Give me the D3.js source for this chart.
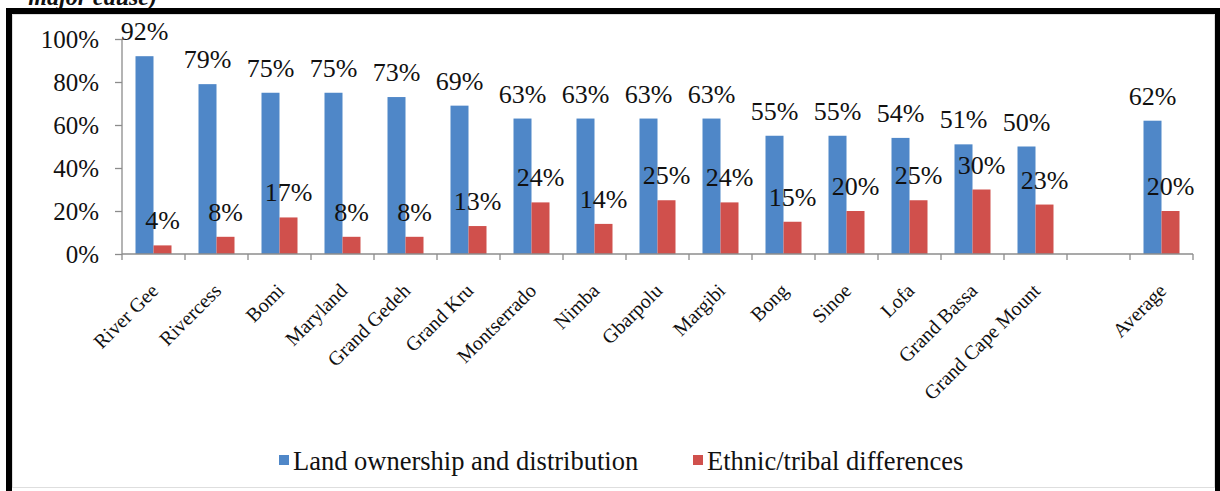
<!DOCTYPE html>
<html>
<head>
<meta charset="utf-8">
<script src="https://cdn.jsdelivr.net/npm/d3@7"></script>
<style>
  body { margin: 0; background: #fff; }
  svg { display: block; }
  text { font-family: "Liberation Serif", "Times New Roman", serif; fill: #111; }
</style>
</head>
<body>
<svg width="1220" height="491"></svg>
<script>
// counties, then an empty slot, then the average
var categories = ["River Gee", "Rivercess", "Bomi", "Maryland", "Grand Gedeh", "Grand Kru",
  "Montserrado", "Nimba", "Gbarpolu", "Margibi", "Bong", "Sinoe", "Lofa", "Grand Bassa",
  "Grand Cape Mount", "", "Average"];
var landValues = [92, 79, 75, 75, 73, 69, 63, 63, 63, 63, 55, 55, 54, 51, 50, null, 62];
var ethnicValues = [4, 8, 17, 8, 8, 13, 24, 14, 25, 24, 15, 20, 25, 30, 23, null, 20];
var seriesNames = ["Land ownership and distribution", "Ethnic/tribal differences"];
var yTicks = [0, 20, 40, 60, 80, 100];

var blue = "#4f87c8", red = "#d0504c", axisGray = "#8c8c8c";

var svg = d3.select("svg"),
    plotLeft = 122, plotRight = 1193, plotTop = 39, plotBottom = 254;

// caption fragment cut off above the frame
svg.append("text")
    .attr("x", 157).attr("y", 5)
    .attr("text-anchor", "end")
    .style("font-size", "24px").style("font-weight", "bold").style("font-style", "italic")
    .text("major cause)");

// frame
svg.append("rect")
    .attr("x", 9).attr("y", 11).attr("width", 1209).attr("height", 600)
    .attr("fill", "#fff").attr("stroke", "#000").attr("stroke-width", 6);
svg.append("rect")
    .attr("x", 12.5).attr("y", 14.5).attr("width", 1202).attr("height", 473)
    .attr("fill", "none").attr("stroke", "#dedede").attr("stroke-width", 1);

var x = d3.scaleBand()
    .domain(d3.range(categories.length))
    .range([plotLeft, plotRight]);

var y = d3.scaleLinear()
    .domain([0, 100])
    .range([plotBottom, plotTop]);

var inner = d3.scaleBand()
    .domain([0, 1])
    .range([0, x.bandwidth()])
    .paddingOuter(0.75)
    .paddingInner(0);

// y axis
var yAxis = svg.append("g")
    .attr("transform", "translate(" + plotLeft + ",0)")
    .call(d3.axisLeft(y).tickValues(yTicks).tickSize(7).tickPadding(16)
      .tickFormat(function(d) { return d + "%"; }));
yAxis.selectAll("path, line").attr("stroke", axisGray).attr("stroke-width", 1.3);
yAxis.selectAll("text").style("font-size", "25px").attr("fill", "#111")
    .style("font-family", "'Liberation Serif', 'Times New Roman', serif");
yAxis.select(".domain").attr("d", "M0," + plotTop + "V" + plotBottom);

// bars
var groups = svg.append("g").selectAll("g")
    .data(categories.map(function(c, i) { return { i: i, vals: [landValues[i], ethnicValues[i]] }; })
      .filter(function(d) { return d.vals[0] != null; }))
    .enter().append("g")
    .attr("transform", function(d) { return "translate(" + x(d.i) + ",0)"; });

groups.selectAll("rect")
    .data(function(d) { return d.vals; })
    .enter().append("rect")
    .attr("x", function(d, k) { return inner(k); })
    .attr("width", inner.bandwidth())
    .attr("y", function(d) { return y(d); })
    .attr("height", function(d) { return plotBottom - y(d); })
    .attr("fill", function(d, k) { return k === 0 ? blue : red; });

groups.selectAll("text")
    .data(function(d) { return d.vals; })
    .enter().append("text")
    .attr("x", function(d, k) { return inner(k) + inner.bandwidth() / 2; })
    .attr("y", function(d) { return y(d) - 16; })
    .attr("text-anchor", "middle")
    .style("font-size", "26px")
    .text(function(d) { return d + "%"; });

// x axis
var xAxisG = svg.append("g");
xAxisG.append("line")
    .attr("x1", plotLeft).attr("x2", plotRight).attr("y1", plotBottom).attr("y2", plotBottom)
    .attr("stroke", axisGray).attr("stroke-width", 1.3);
xAxisG.selectAll("line.tick")
    .data(d3.range(categories.length + 1))
    .enter().append("line")
    .attr("class", "tick")
    .attr("x1", function(d) { return plotLeft + d * x.step(); })
    .attr("x2", function(d) { return plotLeft + d * x.step(); })
    .attr("y1", plotBottom).attr("y2", plotBottom + 6)
    .attr("stroke", axisGray).attr("stroke-width", 1.3);
xAxisG.selectAll("text")
    .data(categories.map(function(c, i) { return { c: c, i: i }; }))
    .enter().append("text")
    .attr("transform", function(d) {
      return "translate(" + (x(d.i) + x.bandwidth() / 2 + 6) + "," + 292 + ") rotate(-45)";
    })
    .attr("text-anchor", "end")
    .style("font-size", "20px")
    .text(function(d) { return d.c; });

// legend
var legend = svg.append("g").selectAll("g")
    .data(seriesNames)
    .enter().append("g")
    .attr("transform", function(d, i) { return "translate(" + (i === 0 ? 279 : 693) + ",455)"; });
legend.append("rect")
    .attr("width", 10).attr("height", 10)
    .attr("fill", function(d, i) { return i === 0 ? blue : red; });
legend.append("text")
    .attr("x", 14).attr("y", 15)
    .style("font-size", "26.5px")
    .text(function(d) { return d; });
</script>
</body>
</html>
